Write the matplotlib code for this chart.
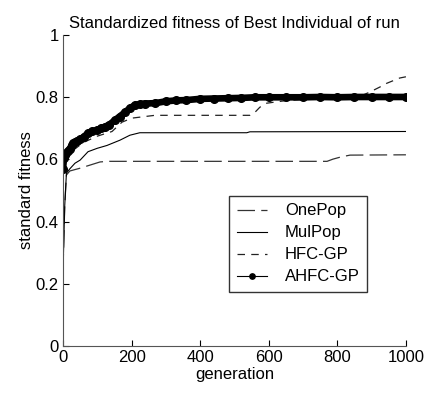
import matplotlib.pyplot as plt

plt.rcParams['font.family'] = ['Liberation Sans', 'DejaVu Sans']

# generation / fitness values
one_gen = [0, 5, 10, 20, 50, 79, 108, 130, 770, 787, 810, 837, 1000]
one_fit = [0.24, 0.45, 0.55, 0.563, 0.572, 0.582, 0.592, 0.594, 0.594, 0.601, 0.608, 0.614, 0.615]

mul_gen = [0, 5, 10, 20, 35, 50, 73, 100, 128, 166, 195, 224, 536, 545, 1000]
mul_fit = [0.24, 0.45, 0.556, 0.57, 0.588, 0.598, 0.625, 0.636, 0.645, 0.662, 0.678, 0.686, 0.686, 0.689, 0.69]

hfc_gen = [0, 5, 10, 30, 60, 100, 143, 172, 201, 268, 545, 560, 574, 594, 641, 700,
           850, 870, 895, 924, 944, 982, 1000]
hfc_fit = [0.55, 0.58, 0.6, 0.63, 0.655, 0.675, 0.69, 0.72, 0.733, 0.742, 0.742, 0.752,
           0.768, 0.781, 0.788, 0.793, 0.795, 0.805, 0.817, 0.833, 0.845, 0.862, 0.866]

ahfc_gen = [0, 3, 6, 10, 15, 20, 25, 30, 35, 40, 50, 60, 73, 85, 100, 110, 122, 135,
            152, 165, 181, 195, 210, 225, 240, 268, 300, 330, 360, 400, 440, 480, 520,
            560, 600, 650, 700, 750, 800, 850, 900, 950, 1000]
ahfc_fit = [0.57, 0.605, 0.615, 0.622, 0.628, 0.635, 0.645, 0.652, 0.656, 0.66, 0.665,
            0.672, 0.685, 0.69, 0.695, 0.7, 0.705, 0.712, 0.727, 0.738, 0.752, 0.765,
            0.775, 0.778, 0.78, 0.781, 0.787, 0.79, 0.791, 0.795, 0.796, 0.797, 0.798,
            0.8, 0.8, 0.8, 0.8, 0.801, 0.8, 0.801, 0.801, 0.801, 0.801]

fig = plt.figure(figsize=(4.3, 3.99), dpi=100)
ax = fig.add_axes([0.1465, 0.1328, 0.7975, 0.7792])

ax.plot(one_gen, one_fit, color='#333333', lw=0.9, dashes=(14, 5), label='OnePop')
ax.plot(mul_gen, mul_fit, color='black', lw=0.8, label='MulPop')
ax.plot(hfc_gen, hfc_fit, color='#222222', lw=0.9, dashes=(6, 5), label='HFC-GP')
ax.plot(ahfc_gen, ahfc_fit, color='black', lw=4.8, solid_capstyle='round')
ax.plot(ahfc_gen, ahfc_fit, color='black', lw=0.8, marker='o', ms=5.5, label='AHFC-GP')

ax.set_xlim(0, 1000)
ax.set_ylim(0, 1)
ax.set_xticks([0, 200, 400, 600, 800, 1000])
ax.set_yticks([0, 0.2, 0.4, 0.6, 0.8, 1])
ax.set_yticklabels(['0', '0.2', '0.4', '0.6', '0.8', '1'])
ax.tick_params(direction='in', length=4, labelsize=12, colors='black', pad=3)
for s in ['top', 'right']:
    ax.spines[s].set_visible(False)
for s in ['left', 'bottom']:
    ax.spines[s].set_color('#555555')

ax.set_title('Standardized fitness of Best Individual of run', fontsize=12, pad=5)
ax.set_xlabel('generation', fontsize=12, labelpad=1)
ax.set_ylabel('standard fitness', fontsize=12, labelpad=1)

leg = ax.legend(loc='upper left', bbox_to_anchor=(0.5326, 0.5088),
                bbox_transform=fig.transFigure, fontsize=12, frameon=True,
                fancybox=False, edgecolor='black', handlelength=1.8,
                borderpad=0.45, labelspacing=0.42, handletextpad=1.1,
                borderaxespad=0, markerscale=0.7)
leg.get_frame().set_linewidth(1.0)

fig.savefig('out.png', dpi=100)
